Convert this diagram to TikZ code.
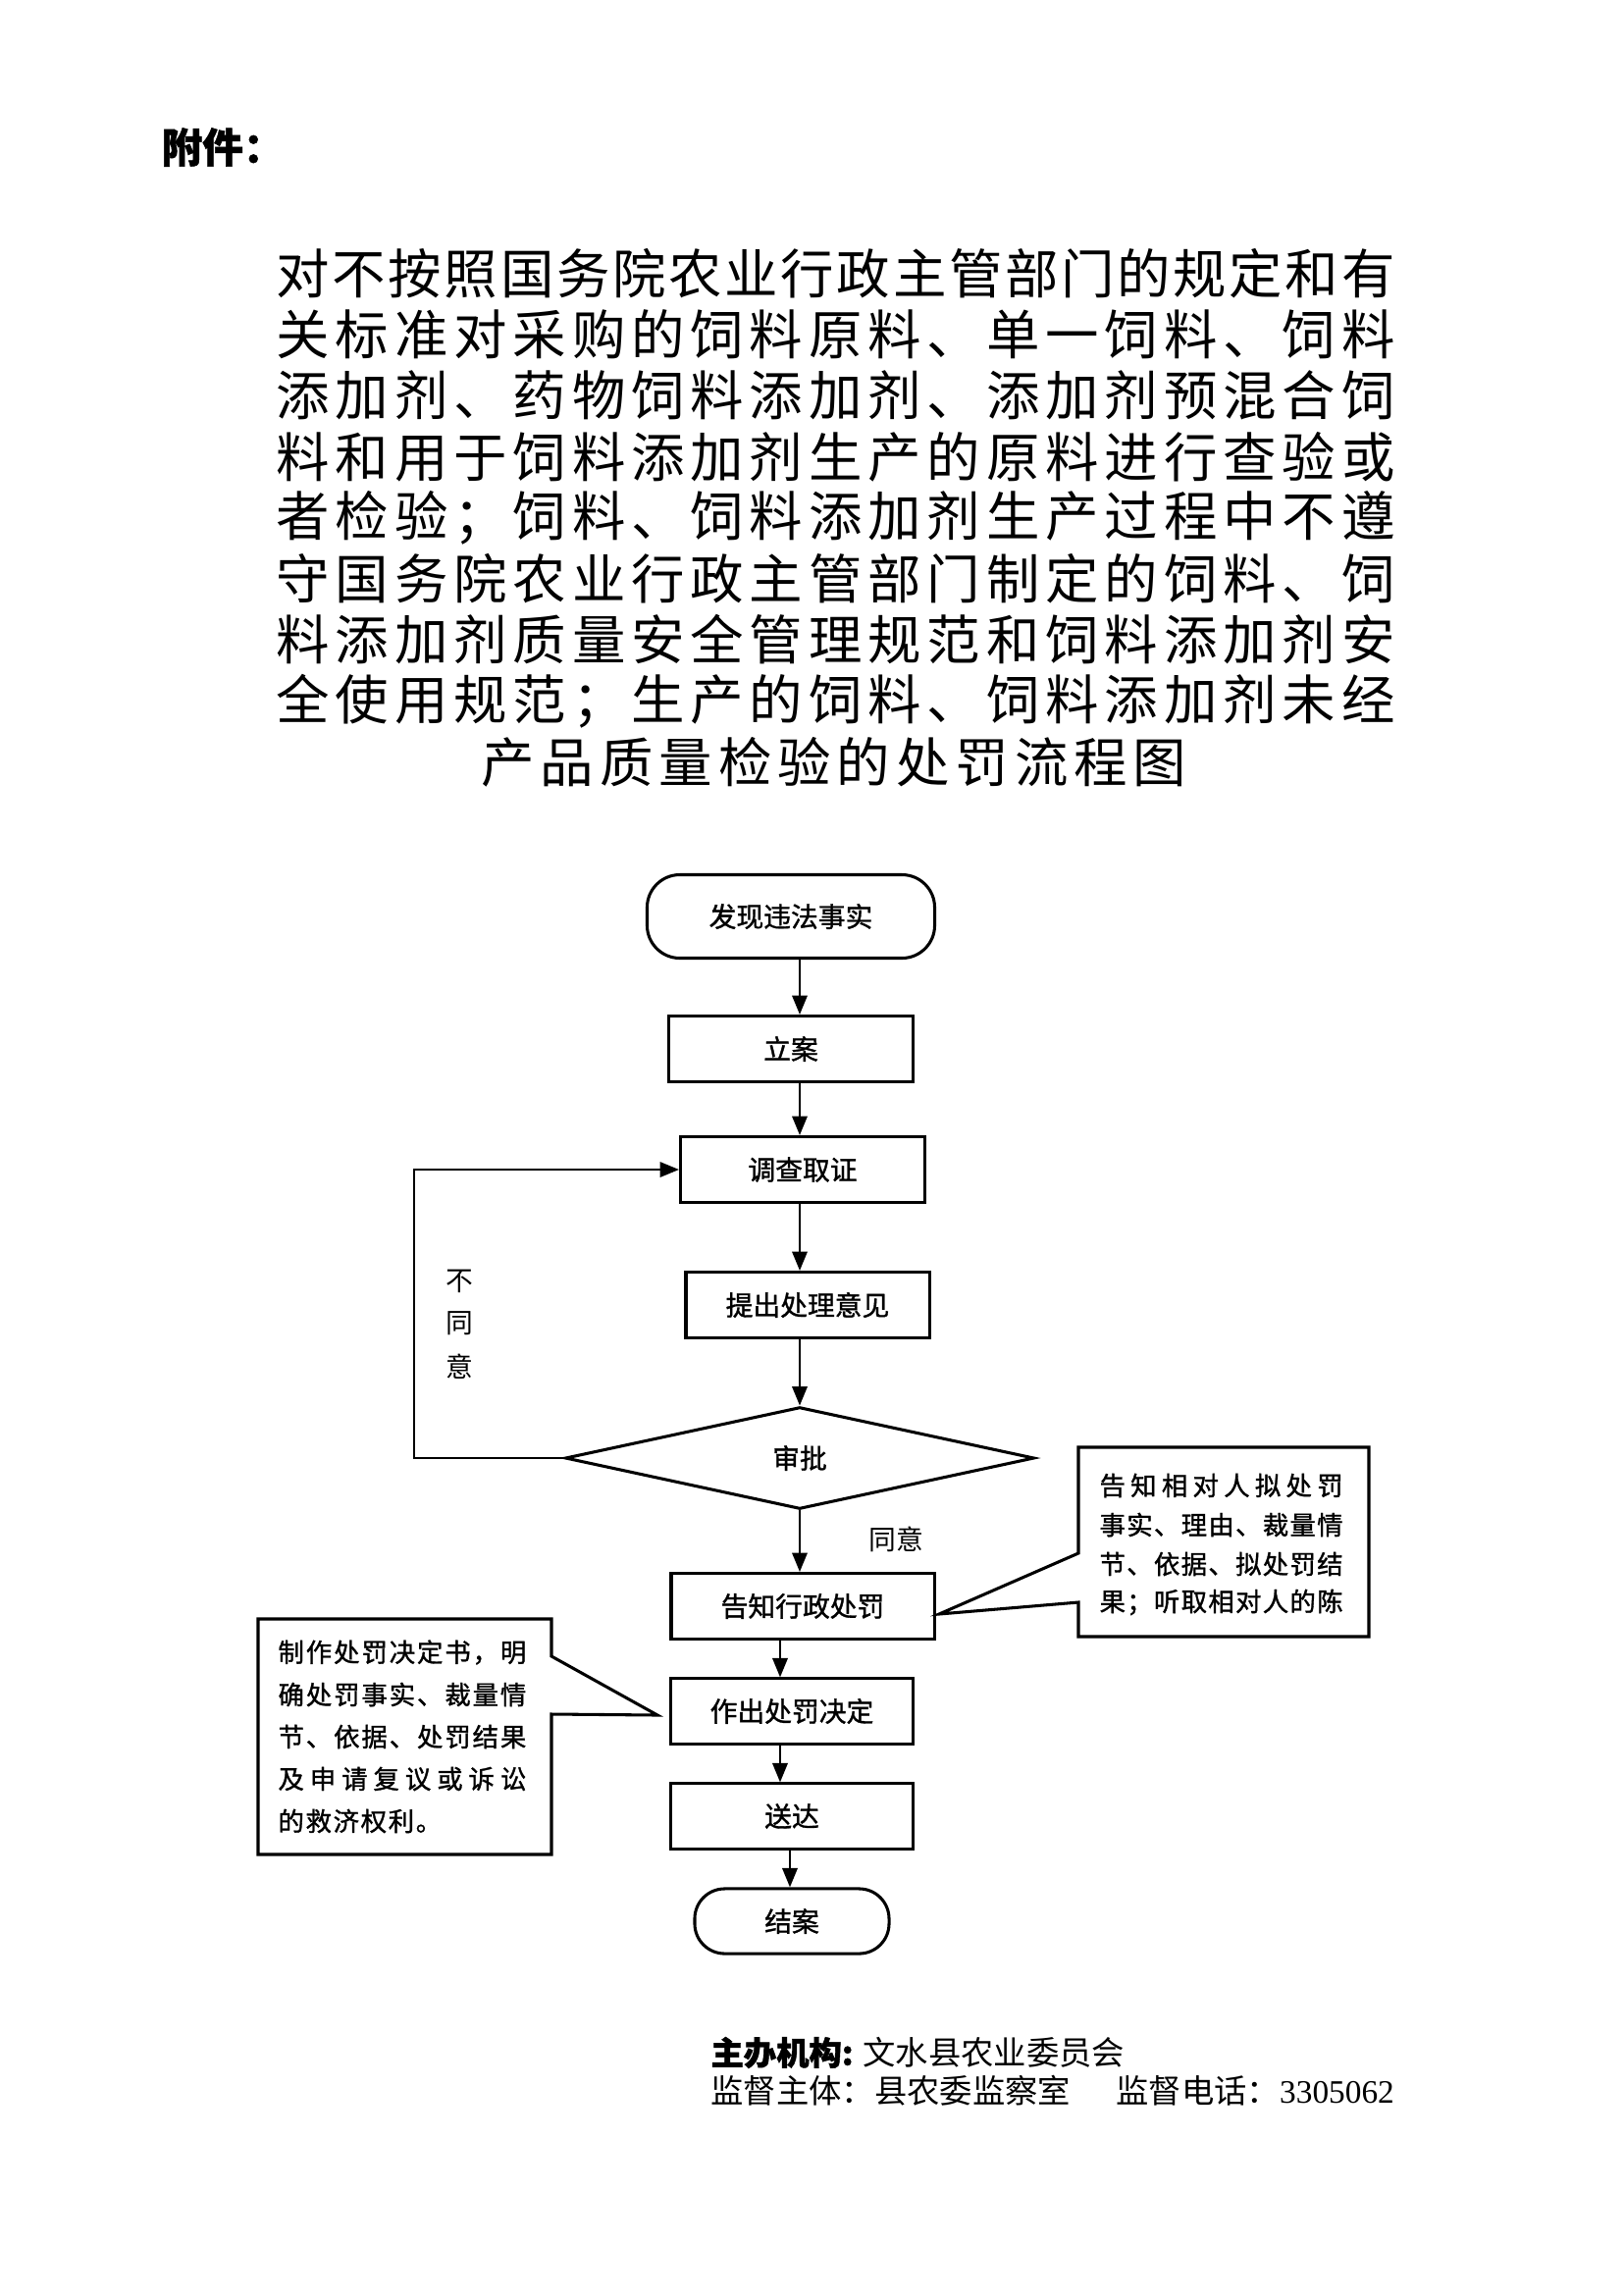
\documentclass[tikz,border=0pt]{standalone}
\usepackage{fontspec}
\setmainfont{Noto Sans CJK SC}
\newfontfamily\cjk{Noto Sans CJK SC}
\newfontfamily\cjkfb[FakeBold=1.2]{Noto Sans CJK SC}
\newfontfamily\serifnum{Liberation Serif}
\usetikzlibrary{shapes.geometric,arrows.meta}

\def\jlend{}
\def\jlaux#1#2\jlend{#1\ifx\jlend#2\jlend\else\hfil\jlaux#2\jlend\fi}
\newcommand\jline[2]{\makebox[#1][s]{\jlaux#2\jlend}}

\tikzset{
  titleline/.style={anchor=west, inner sep=0pt, font=\cjk\fontsize{19.6pt}{19.6pt}\selectfont},
  flowbox/.style={draw, line width=1.1pt, inner sep=0pt, font=\cjkfb\fontsize{10pt}{12pt}\selectfont},
  termbox/.style={flowbox, rounded corners=12pt},
  arr/.style={line width=0.9pt, -{Triangle[length=7pt,width=5.5pt]}},
  callout/.style={draw, line width=1.1pt, line join=miter},
  cotext/.style={anchor=west, inner sep=0pt, font=\cjkfb\fontsize{9.5pt}{11pt}\selectfont},
  lbl/.style={inner sep=0pt, font=\cjk\fontsize{10pt}{12pt}\selectfont},
  foot/.style={anchor=west, inner sep=0pt, font=\cjk\fontsize{12pt}{14pt}\selectfont}
}

\begin{document}
\begin{tikzpicture}[x=0.36pt,y=-0.36pt]
\fill[white] (0,0) rectangle (1654,2339);
\useasboundingbox (0,0) rectangle (1654,2339);

% header
\node[anchor=west, inner sep=0pt, font=\cjkfb\bfseries\fontsize{15pt}{15pt}\selectfont] (fujian) at (164,150) {附件：};

% title
\node[titleline] (t1) at (281,279) {\jline{410.4pt}{对不按照国务院农业行政主管部门的规定和有}};
\node[titleline] (t2) at (281,341) {\jline{410.4pt}{关标准对采购的饲料原料、单一饲料、饲料}};
\node[titleline] (t3) at (281,403) {\jline{410.4pt}{添加剂、药物饲料添加剂、添加剂预混合饲}};
\node[titleline] (t4) at (281,466) {\jline{410.4pt}{料和用于饲料添加剂生产的原料进行查验或}};
\node[titleline] (t5) at (281,528) {\jline{410.4pt}{者检验；饲料、饲料添加剂生产过程中不遵}};
\node[titleline] (t6) at (281,590) {\jline{410.4pt}{守国务院农业行政主管部门制定的饲料、饲}};
\node[titleline] (t7) at (281,652) {\jline{410.4pt}{料添加剂质量安全管理规范和饲料添加剂安}};
\node[titleline] (t8) at (281,715) {\jline{410.4pt}{全使用规范；生产的饲料、饲料添加剂未经}};
\node[titleline] (t9) at (490,777) {\jline{258.8pt}{产品质量检验的处罚流程图}};

% flowchart nodes
\node[termbox, minimum width=105.5pt, minimum height=30.6pt] (start) at (806,934) {发现违法事实};
\node[flowbox, minimum width=89.6pt, minimum height=24.1pt] (lian) at (806,1069) {立案};
\node[flowbox, minimum width=89.6pt, minimum height=24.1pt] (diaocha) at (818,1192) {调查取证};
\node[flowbox, minimum width=89.3pt, minimum height=24.1pt] (tichu) at (823,1330) {提出处理意见};
\node[flowbox, diamond, minimum width=172.1pt, minimum height=37.4pt] (shenpi) at (815,1486) {审批};
\node[flowbox, minimum width=96.5pt, minimum height=24.1pt] (gaozhi) at (818,1637) {告知行政处罚};
\node[flowbox, minimum width=88.6pt, minimum height=23.8pt] (zuochu) at (807,1744) {作出处罚决定};
\node[flowbox, minimum width=88.6pt, minimum height=23.8pt] (songda) at (807,1851) {送达};
\node[termbox, rounded corners=11pt, minimum width=71.3pt, minimum height=23.8pt] (jiean) at (807,1958) {结案};

% arrow axes
\coordinate (ax) at (815,0);
\coordinate (bx) at (795,0);
\coordinate (cx) at (805,0);
\coordinate (fb) at (422,0);

\draw[arr] (start.south -| ax) -- (lian.north -| ax);
\draw[arr] (lian.south -| ax) -- (diaocha.north -| ax);
\draw[arr] (diaocha.south -| ax) -- (tichu.north -| ax);
\draw[arr] (tichu.south -| ax) -- (shenpi.north);
\draw[arr] (shenpi.south) -- (gaozhi.north -| ax);
\draw[arr] (gaozhi.south -| bx) -- (zuochu.north -| bx);
\draw[arr] (zuochu.south -| bx) -- (songda.north -| bx);
\draw[arr] (songda.south -| cx) -- (jiean.north -| cx);
\draw[arr] (shenpi.west) -- (shenpi.west -| fb) -- (diaocha.west -| fb) -- (diaocha.west);

% labels
\node[lbl] (bu) at (468,1306) {不};
\node[lbl] (tong) at (468,1349) {同};
\node[lbl] (yi) at (468,1393) {意};
\node[lbl] (tongyi) at (913,1569) {同意};

% right callout
\coordinate (rtip) at (957,1645);
\draw[callout] (1099,1475) -- (1395,1475) -- (1395,1668) -- (1099,1668) -- (1099,1633) -- (rtip) -- (1099,1583) -- cycle;
\node[cotext] (r1) at (1120,1514) {\jline{89.3pt}{告知相对人拟处罚}};
\node[cotext] (r2) at (1120,1554) {\jline{89.3pt}{事实、理由、裁量情}};
\node[cotext] (r3) at (1120,1594) {\jline{89.3pt}{节、依据、拟处罚结}};
\node[cotext] (r4) at (1120,1633) {\jline{89.3pt}{果；听取相对人的陈}};

% left callout
\coordinate (ltip) at (670,1748);
\draw[callout] (263,1650) -- (562,1650) -- (562,1688) -- (ltip) -- (562,1747) -- (562,1890) -- (263,1890) -- cycle;
\node[cotext] (l1) at (283,1684) {\jline{91pt}{制作处罚决定书，明}};
\node[cotext] (l2) at (283,1727) {\jline{91pt}{确处罚事实、裁量情}};
\node[cotext] (l3) at (283,1770) {\jline{91pt}{节、依据、处罚结果}};
\node[cotext] (l4) at (283,1813) {\jline{91pt}{及申请复议或诉讼}};
\node[cotext] (l5) at (283,1856) {\jline{60pt}{的救济权利。}};

% footer
\node[foot] (f1) at (724,2092) {{\cjkfb\bfseries 主办机构:} 文水县农业委员会};
\node[foot] (f2) at (724,2131) {监督主体：县农委监察室};
\node[foot] (f3) at (1137,2131) {监督电话：{\serifnum 3305062}};
\end{tikzpicture}
\end{document}
